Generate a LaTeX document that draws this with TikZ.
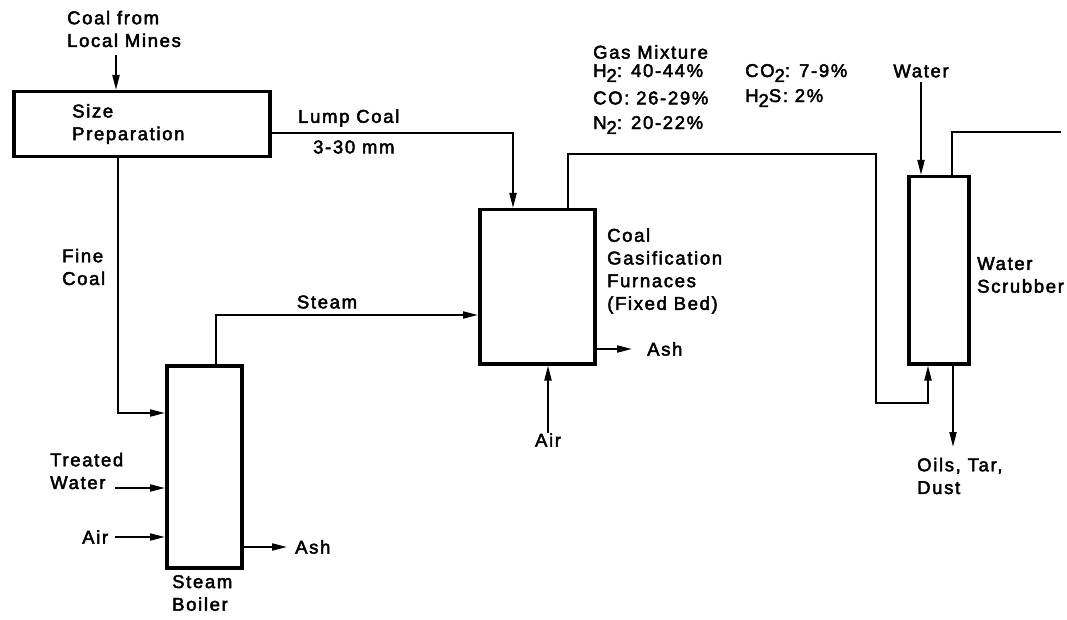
\documentclass[tikz,border=0pt]{standalone}
\usepackage{fontspec}
\setmainfont{Liberation Sans}[LetterSpace=9,FakeBold=2.5]
\usetikzlibrary{arrows.meta}
\newcommand{\sbt}[1]{\raisebox{-0.5ex}{#1}}
\begin{document}
\begin{tikzpicture}[x=1pt,y=-1pt,
  box/.style={draw,line width=3.5pt,inner sep=0pt,anchor=north west},
  pipe/.style={line width=2pt},
  arr/.style={pipe,-{Triangle[length=15pt,width=7pt]}},
  lbl/.style={font=\fontsize{18.5}{22.7}\selectfont,inner sep=0pt,anchor=west,align=left}]
\useasboundingbox (0,0) rectangle (1067,620);
% boxes
\node[box,minimum width=256pt,minimum height=65pt] (prep) at (12,90) {};
\node[box,minimum width=115pt,minimum height=154pt] (gas) at (478,208) {};
\node[box,minimum width=60pt,minimum height=187pt] (scr) at (907,175) {};
\node[box,minimum width=75pt,minimum height=202pt] (boil) at (165,364) {};
% labels
\node[lbl] (coalsrc) at (67,29) {Coal from\\Local Mines};
\node[lbl] (preptxt) at (72,124) {Size\\Preparation};
\node[lbl] (lump) at (298,118) {Lump Coal};
\node[lbl] (mm) at (313,147) {3-30 mm};
\node[lbl] (fine) at (62,267) {Fine\\Coal};
\node[lbl,anchor=center] (steamtxt) at (327,302) {Steam};
\node[lbl] (gastxt) at (607,271) {Coal\\Gasification\\Furnaces\\(Fixed Bed)};
\node[lbl] (ash1) at (647,349) {Ash};
\node[lbl,anchor=center] (air1) at (548,440) {Air};
\node[lbl] (mix) at (593,52) {Gas Mixture};
\node[lbl] (h2) at (593,73) {H\sbt{2}: 40-44\%};
\node[lbl] (co2) at (745,73) {CO\sbt{2}: 7-9\%};
\node[lbl] (co) at (593,98) {CO: 26-29\%};
\node[lbl] (h2s) at (745,98) {H\sbt{2}S: 2\%};
\node[lbl] (n2) at (593,125) {N\sbt{2}: 20-22\%};
\node[lbl,anchor=center] (water) at (921,71) {Water};
\node[lbl] (scrtxt) at (977,275) {Water\\Scrubber};
\node[lbl] (oils) at (917,476) {Oils, Tar,\\Dust};
\node[lbl] (tw) at (50,471) {Treated\\Water};
\node[lbl] (air2) at (82,537) {Air};
\node[lbl] (ash2) at (295,547) {Ash};
\node[lbl] (boiltxt) at (172,593) {Steam\\Boiler};
% coordinates
\coordinate (c1) at (116,55);
\coordinate (lc) at (513,133);
\coordinate (g1) at (568,154);
\coordinate (g2) at (876,154);
\coordinate (g3) at (876,403);
\coordinate (g4) at (928,403);
\coordinate (w1) at (921,82);
\coordinate (o1) at (952,132);
\coordinate (o2) at (1061,132);
\coordinate (o3) at (953,447);
\coordinate (a1) at (632,349);
\coordinate (s1) at (216,315);
\coordinate (f1) at (118,413);
\coordinate (t1) at (115,488);
\coordinate (a3) at (287,547);
% connectors
\draw[arr] (c1) -- (prep.north -| c1);
\draw[arr] (prep.east |- lc) -| (gas.north -| lc);
\draw[arr] (gas.north -| g1) -- (g1) -- (g2) -- (g3) -- (g4) -- (scr.south -| g4);
\draw[arr] (w1) -- (scr.north -| w1);
\draw[pipe] (scr.north -| o1) -- (o1) -- (o2);
\draw[arr] (scr.south -| o3) -- (o3);
\draw[arr] (gas.east |- a1) -- (a1);
\draw[arr] (air1.north) -- (gas.south -| air1.north);
\draw[arr] (boil.north -| s1) -- (s1) -- (gas.west |- s1);
\draw[arr] (prep.south -| f1) -- (f1) -- (boil.west |- f1);
\draw[arr] (t1) -- (boil.west |- t1);
\draw[arr] ([xshift=7pt]air2.east) -- (boil.west |- air2.east);
\draw[arr] (boil.east |- a3) -- (a3);
\end{tikzpicture}
\end{document}
